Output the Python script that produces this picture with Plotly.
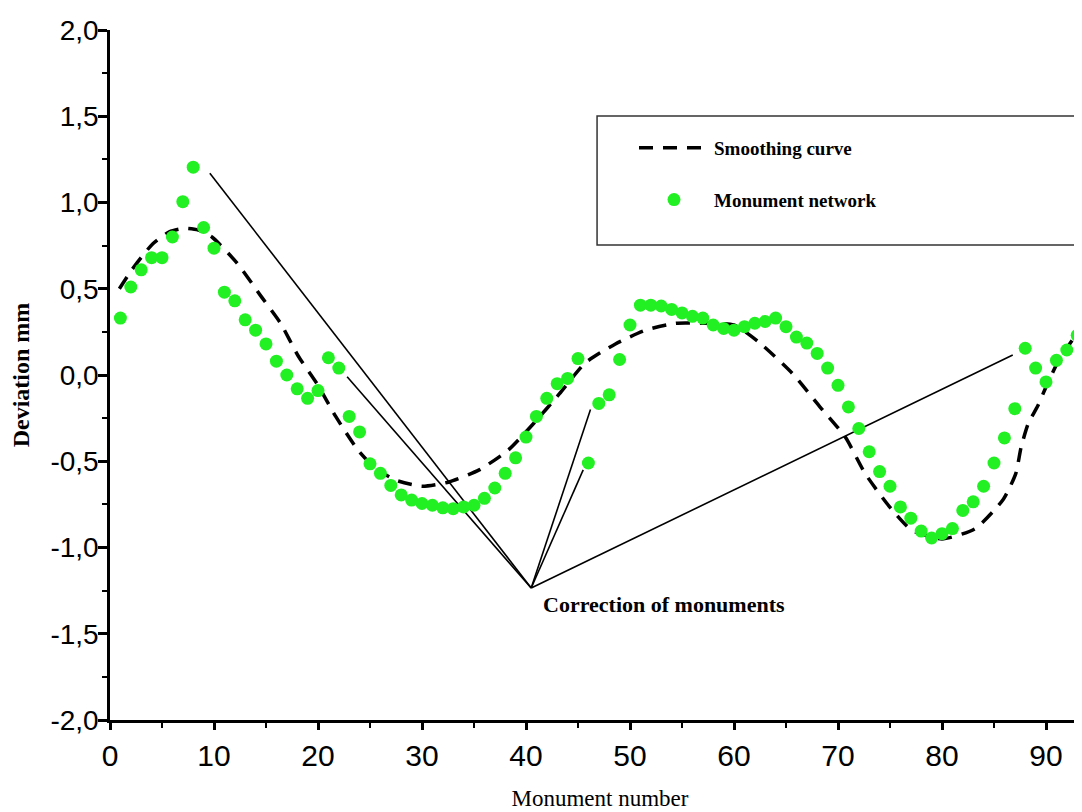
import plotly.graph_objects as go

# ---- data ----
monument_no = list(range(1, 94))
deviation = [
    0.33, 0.51, 0.61, 0.68, 0.68, 0.80, 1.005, 1.205, 0.855, 0.735,
    0.48, 0.43, 0.32, 0.26, 0.18, 0.08, 0.00, -0.08, -0.135, -0.09,
    0.10, 0.04, -0.24, -0.33, -0.515, -0.57, -0.64, -0.695, -0.725, -0.745,
    -0.755, -0.77, -0.775, -0.765, -0.755, -0.715, -0.655, -0.57, -0.48, -0.36,
    -0.24, -0.135, -0.05, -0.02, 0.095, -0.51, -0.165, -0.115, 0.09, 0.29,
    0.405, 0.405, 0.40, 0.38, 0.36, 0.34, 0.33, 0.29, 0.27, 0.26,
    0.28, 0.30, 0.31, 0.33, 0.28, 0.22, 0.185, 0.125, 0.04, -0.06,
    -0.185, -0.31, -0.445, -0.56, -0.645, -0.765, -0.83, -0.905, -0.945, -0.92,
    -0.89, -0.785, -0.735, -0.645, -0.51, -0.365, -0.195, 0.155, 0.04, -0.04,
    0.085, 0.145, 0.23,
]

smooth_x = [0.9, 2.1, 4.1, 5.7, 7.1, 8.5, 9.8, 12.2, 14.6, 16.4, 18.1, 19.9,
            21.7, 23.9, 25.5, 27.5, 30.0, 32.6, 35.5, 38.3, 40.6, 43.2, 45.7,
            48.6, 51.5, 54.4, 57.0, 60.0, 62.4, 65.6, 68.2, 70.7, 72.6, 74.9,
            77.1, 80.0, 83.2, 85.9, 87.1, 87.6, 88.3, 89.2, 90.0, 91.1, 92.5, 94.0]
smooth_y = [0.50, 0.61, 0.76, 0.83, 0.85, 0.84, 0.80, 0.65, 0.45, 0.30, 0.11, -0.05,
            -0.24, -0.44, -0.54, -0.61, -0.645, -0.62, -0.55, -0.435, -0.29, -0.11, 0.07,
            0.18, 0.26, 0.30, 0.30, 0.29, 0.19, 0.01, -0.18, -0.36, -0.57, -0.76,
            -0.90, -0.95, -0.89, -0.72, -0.57, -0.42, -0.28, -0.18, -0.07, 0.07, 0.20, 0.32]

correction_vertex_x = 40.5
correction_vertex_y = -1.235
correction_end_x = [9.6, 22.8, 46.2, 45.5, 86.8]
correction_end_y = [1.17, -0.01, -0.20, -0.55, 0.116]

x_ticks = [0, 10, 20, 30, 40, 50, 60, 70, 80, 90]
y_ticks = [-2.0, -1.5, -1.0, -0.5, 0.0, 0.5, 1.0, 1.5, 2.0]
y_tick_labels = ["-2,0", "-1,5", "-1,0", "-0,5", "0,0", "0,5", "1,0", "1,5", "2,0"]

# ---- build segments for the correction lines ----
seg_x, seg_y = [], []
for ex, ey in zip(correction_end_x, correction_end_y):
    seg_x += [correction_vertex_x, ex, None]
    seg_y += [correction_vertex_y, ey, None]

GREEN = "#22F022"
SERIF = "Liberation Serif, Times New Roman, serif"

fig = go.Figure()

fig.add_trace(go.Scatter(
    x=seg_x, y=seg_y, mode="lines",
    line=dict(color="black", width=1.6),
    showlegend=False, hoverinfo="skip",
))

fig.add_trace(go.Scatter(
    x=smooth_x, y=smooth_y, mode="lines", name="Smoothing curve",
    line=dict(color="black", width=3.5, dash="14px,10px", shape="spline", smoothing=0.6),
    legendgroup="a",
))

fig.add_trace(go.Scatter(
    x=monument_no, y=deviation, mode="markers", name="Monument network",
    marker=dict(color=GREEN, size=13, line=dict(width=0)),
    legendgroup="b",
))

fig.add_annotation(
    x=correction_vertex_x, y=correction_vertex_y, xref="x", yref="y",
    text="Correction of monuments", showarrow=False,
    xanchor="left", yanchor="top", xshift=10, yshift=-2,
    font=dict(family=SERIF, size=22, color="black", weight="bold"),
)

# legend frame (extends past the right edge, as in the reference)
fig.add_shape(
    type="rect", xref="paper", yref="paper",
    x0=0.497, x1=1.2, y0=0.6884, y1=0.8754,
    line=dict(color="#333333", width=1.5), fillcolor="rgba(0,0,0,0)", layer="below",
)

fig.update_layout(
    width=1082, height=812,
    margin=dict(l=102, r=0, t=22, b=100, autoexpand=False),
    paper_bgcolor="white", plot_bgcolor="white",
    showlegend=True,
    legend=dict(
        x=0.5347, y=0.8565, xanchor="left", yanchor="top",
        bgcolor="rgba(0,0,0,0)", borderwidth=0,
        font=dict(family=SERIF, size=19, color="black", weight="bold"),
        tracegroupgap=24, itemwidth=70,
    ),
    xaxis=dict(
        range=[0, 94.23], tickmode="array", tickvals=x_ticks,
        showline=True, linecolor="black", linewidth=2.5, mirror=False,
        ticks="outside", ticklen=7, tickwidth=2.5, tickcolor="black",
        minor=dict(dtick=5, tick0=0, ticks="outside", ticklen=5, tickwidth=2, tickcolor="black"),
        showgrid=False, zeroline=False,
        tickfont=dict(family="Liberation Sans Narrow, Arial Narrow, Liberation Sans, Arial", size=30, color="black"),
        title=dict(text="Monument number", font=dict(family=SERIF, size=23, color="black"), standoff=20),
        automargin=False,
    ),
    yaxis=dict(
        range=[-2, 2], tickmode="array", tickvals=y_ticks, ticktext=y_tick_labels,
        showline=True, linecolor="black", linewidth=2.5,
        ticks="outside", ticklen=9, tickwidth=2.5, tickcolor="black",
        minor=dict(dtick=0.25, tick0=0, ticks="outside", ticklen=5, tickwidth=2, tickcolor="black"),
        showgrid=False, zeroline=False,
        tickfont=dict(family="Liberation Sans, Arial", size=28, color="black"),
        ticklabelstandoff=-6,
        title=dict(text="Deviation mm", font=dict(family=SERIF, size=24, color="black", weight="bold"), standoff=28),
        automargin=False,
    ),
)

fig.write_html("out.html")
